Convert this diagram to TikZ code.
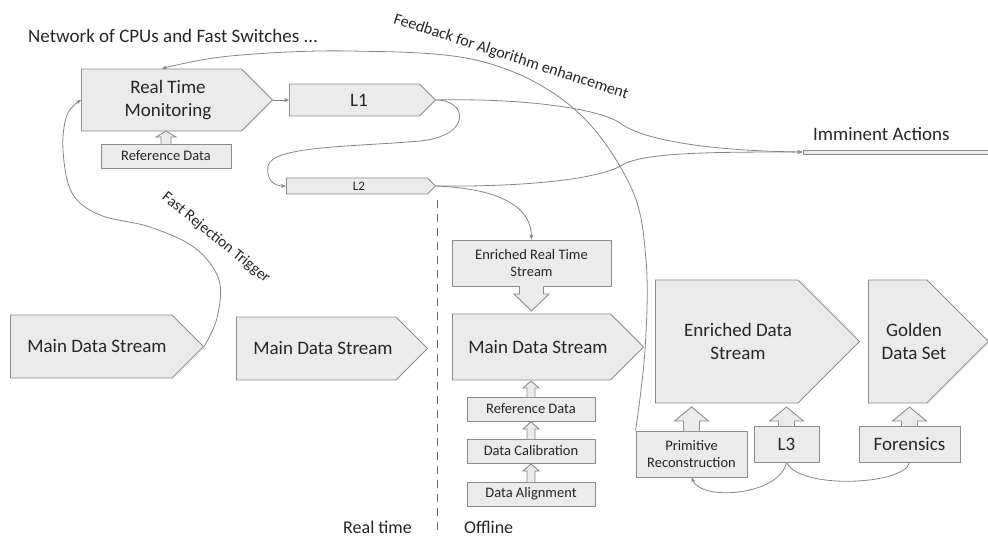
\documentclass[tikz,border=0pt]{standalone}
\usepackage{fontspec}
\setmainfont{Carlito}
\usetikzlibrary{shapes.symbols,arrows.meta,calc}
\definecolor{boxfill}{HTML}{EBEBEB}
\definecolor{boxline}{HTML}{8C8C8C}
\definecolor{conn}{HTML}{858585}
\definecolor{txt}{HTML}{262626}
% hollow block arrow: cx, ytail, ytip, body half width, head half width, head-base y
\newcommand{\blockarrow}[6]{%
  \filldraw[harrow] (#1-#4,#2) -- (#1-#4,#6) -- (#1-#5,#6) -- (#1,#3) -- (#1+#5,#6) -- (#1+#4,#6) -- (#1+#4,#2);
}
\begin{document}
\begin{tikzpicture}[x=1pt,y=-1pt,
  bigf/.style={font=\fontsize{19}{23}\selectfont},
  smallf/.style={font=\fontsize{14.5}{17}\selectfont},
  sig/.style={shape=signal, signal to=east, signal from=nowhere, signal pointer angle=90,
    draw=boxline, fill=boxfill, line width=0.9pt, inner sep=0pt, anchor=west},
  box/.style={rectangle, draw=boxline, fill=boxfill, line width=0.9pt, inner sep=0pt, align=center, text=txt},
  intext/.style={inner sep=0pt, align=center, text=txt},
  harrow/.style={draw=boxline, fill=boxfill, line width=0.9pt},
  label/.style={inner sep=0pt, text=txt},
  conn/.style={draw=conn, line width=0.8pt},
  arr/.style={conn, -{Stealth[length=5pt,width=4pt]}}
]
\useasboundingbox (0,0) rectangle (988,539);

% ---- arrow-shaped boxes (outline) and their texts ----
\node[sig, minimum width=191, minimum height=62] (rtm) at (81,100) {};
\node[intext, bigf] (rtmtext) at (168,100) {Real Time\\Monitoring};
\node[sig, minimum width=146, minimum height=32] (l1) at (289,100) {};
\node[intext, bigf] (l1text) at (359,100) {L1};
\node[sig, minimum width=149, minimum height=16] (l2) at (286,186) {};
\node[intext, font=\fontsize{13}{15}\selectfont] (l2text) at (359,186) {L2};
\node[sig, minimum width=193, minimum height=63] (mds1) at (10,346.5) {};
\node[intext, bigf] (mds1text) at (97,346.5) {Main Data Stream};
\node[sig, minimum width=191, minimum height=63] (mds2) at (236,348.5) {};
\node[intext, bigf] (mds2text) at (323,348.5) {Main Data Stream};
\node[sig, minimum width=191, minimum height=66] (mds3) at (452,347) {};
\node[intext, bigf] (mds3text) at (538,347) {Main Data Stream};
\node[sig, minimum width=204, minimum height=123] (eds) at (655,341.5) {};
\node[intext, bigf] (edstext) at (738,341.5) {Enriched Data\\Stream};
\node[sig, minimum width=120, minimum height=123] (gds) at (868,341.5) {};
\node[intext, bigf] (gdstext) at (914,341.5) {Golden\\Data Set};

% ---- rectangular boxes ----
\node[box, smallf, minimum width=130, minimum height=24] (rd1) at (166,156) {Reference Data};
\node[box, smallf, minimum width=159, minimum height=46] (erts) at (531.5,263) {Enriched Real Time\\Stream};
\node[box, smallf, minimum width=128, minimum height=24] (rd2) at (531,409) {Reference Data};
\node[box, smallf, minimum width=128, minimum height=24] (dc) at (531,451) {Data Calibration};
\node[box, smallf, minimum width=128, minimum height=24] (da) at (531,494) {Data Alignment};
\node[box, smallf, minimum width=111, minimum height=46] (prc) at (691.5,454) {Primitive\\Reconstruction};
\node[box, bigf, minimum width=65, minimum height=36] (l3) at (786.5,444) {L3};
\node[box, bigf, minimum width=101, minimum height=36] (fo) at (909.5,444) {Forensics};
\node[box, minimum width=186, minimum height=4] (imm) at (896,152) {};

% ---- hollow block arrows ----
\blockarrow{166}{144}{131}{5}{10}{137}
\blockarrow{531}{397}{381}{4}{8}{388}
\blockarrow{531}{439}{422}{4}{8}{429}
\blockarrow{531}{482}{464}{4}{8}{471}
\blockarrow{531.5}{286}{311}{12}{17.5}{294}
\blockarrow{691.5}{431}{407}{8}{17}{421}
\blockarrow{786.5}{426}{407}{8}{17}{421}
\blockarrow{909.5}{426}{407}{8}{17}{421}

% ---- free texts ----
\node[label, font=\fontsize{19}{22}\selectfont, anchor=base west] (net) at (28,42) {Network of CPUs and Fast Switches ...};
\node[label, font=\fontsize{19}{22}\selectfont, anchor=base west] (immtxt) at (813,140) {Imminent Actions};
\node[label, font=\fontsize{18}{22}\selectfont, anchor=base west] (rt) at (343,533) {Real time};
\node[label, font=\fontsize{18}{22}\selectfont, anchor=base west] (off) at (464,533) {Offline};
\node[label, font=\fontsize{16}{19}\selectfont, rotate=-18] (fb) at (511,57) {Feedback for Algorithm enhancement};
\node[label, font=\fontsize{15.5}{18}\selectfont, rotate=-39] (fr) at (216,238) {Fast Rejection Trigger};

% ---- connectors ----
\draw[arr] (rtm.east) -- (l1.west);
\draw[arr] (l1.east) .. controls (468,100) and (472,136) .. (420,141)
  .. controls (350,147) and (272,146) .. (268,166)
  .. controls (266,180) and (274,186) .. (l2.west);
\draw[arr] (l1.east) .. controls (520,98) and (598,108) .. (620,123)
  .. controls (645,142) and (720,151) .. (imm.west);
\draw[arr] (l2.east) .. controls (520,187) and (600,180) .. (624,164)
  .. controls (648,152) and (720,152) .. (imm.west);
\draw[arr] (l2.east) .. controls (485,188) and (531,200) .. (erts.north);
\draw[arr] plot[smooth, tension=0.6] coordinates {(prc.north west) (645,350) (646,260) (630,185) (572,107) (480,61) (350,51) (230,56) ([xshift=81pt]rtm.north west)};
\draw[arr] plot[smooth, tension=0.6] coordinates {(mds1.east) (217,318) (219,280) (195,248) (150,227) (100,215) (72,193) (63,150) (67,115) (rtm.west)};
\draw[arr] (l3.south) .. controls (780,495) and (702,502) .. (prc.south);
\draw[conn] (fo.south) .. controls (905,485) and (800,490) .. (l3.south);

\coordinate (dtop) at (437,200);
\coordinate (dbot) at (437,532);
\draw[draw=conn!80!black, line width=1pt, dash pattern=on 8pt off 6pt] (dtop) -- (dbot);
\end{tikzpicture}
\end{document}
